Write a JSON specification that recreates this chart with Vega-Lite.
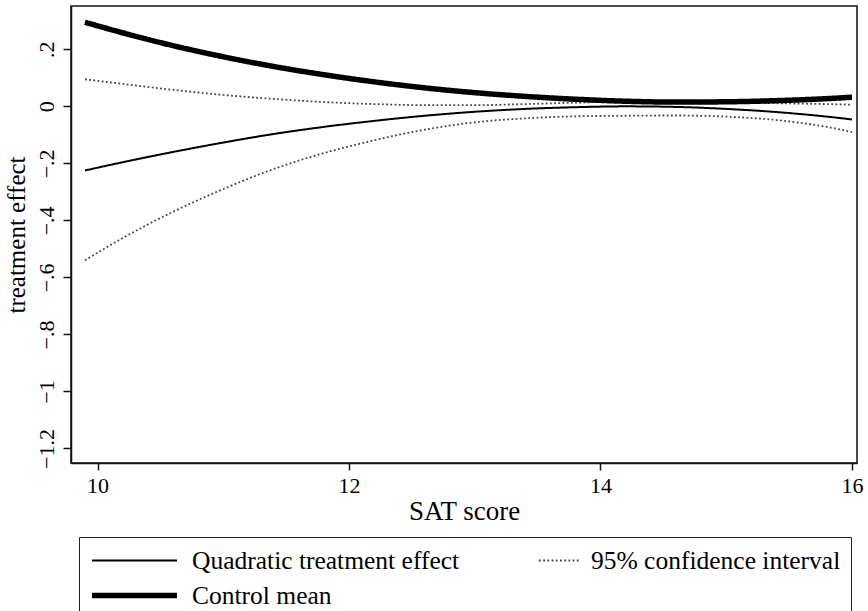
{
  "$schema": "https://vega.github.io/schema/vega-lite/v6.json",
  "autosize": "none",
  "width": 786,
  "height": 457,
  "padding": {"left": 71, "top": 6, "right": 11, "bottom": 148},
  "background": "white",
  "config": {
    "view": {"stroke": "#111", "strokeWidth": 1.5},
    "font": "Liberation Serif",
    "axis": {
      "grid": false,
      "domainColor": "#111",
      "domainWidth": 1.5,
      "tickColor": "#111",
      "tickWidth": 1.5,
      "labelFont": "Liberation Serif",
      "titleFont": "Liberation Serif",
      "labelColor": "black",
      "titleColor": "black",
      "titleFontWeight": "normal"
    },
    "legend": {
      "labelFont": "Liberation Serif",
      "labelColor": "black"
    }
  },
  "data": {
    "values": [
      {"sat": 9.9, "value": -0.225, "series": "Quadratic treatment effect", "line": "te"},
      {"sat": 10.2, "value": -0.196, "series": "Quadratic treatment effect", "line": "te"},
      {"sat": 10.6, "value": -0.160, "series": "Quadratic treatment effect", "line": "te"},
      {"sat": 11.0, "value": -0.127, "series": "Quadratic treatment effect", "line": "te"},
      {"sat": 11.4, "value": -0.097, "series": "Quadratic treatment effect", "line": "te"},
      {"sat": 11.8, "value": -0.072, "series": "Quadratic treatment effect", "line": "te"},
      {"sat": 12.2, "value": -0.051, "series": "Quadratic treatment effect", "line": "te"},
      {"sat": 12.6, "value": -0.033, "series": "Quadratic treatment effect", "line": "te"},
      {"sat": 13.0, "value": -0.019, "series": "Quadratic treatment effect", "line": "te"},
      {"sat": 13.4, "value": -0.009, "series": "Quadratic treatment effect", "line": "te"},
      {"sat": 13.8, "value": -0.003, "series": "Quadratic treatment effect", "line": "te"},
      {"sat": 14.2, "value": 0.0, "series": "Quadratic treatment effect", "line": "te"},
      {"sat": 14.6, "value": -0.002, "series": "Quadratic treatment effect", "line": "te"},
      {"sat": 15.0, "value": -0.009, "series": "Quadratic treatment effect", "line": "te"},
      {"sat": 15.4, "value": -0.020, "series": "Quadratic treatment effect", "line": "te"},
      {"sat": 15.8, "value": -0.036, "series": "Quadratic treatment effect", "line": "te"},
      {"sat": 16.0, "value": -0.046, "series": "Quadratic treatment effect", "line": "te"},

      {"sat": 9.9, "value": 0.095, "series": "95% confidence interval", "line": "ucl"},
      {"sat": 10.2, "value": 0.079, "series": "95% confidence interval", "line": "ucl"},
      {"sat": 10.6, "value": 0.058, "series": "95% confidence interval", "line": "ucl"},
      {"sat": 11.0, "value": 0.040, "series": "95% confidence interval", "line": "ucl"},
      {"sat": 11.4, "value": 0.026, "series": "95% confidence interval", "line": "ucl"},
      {"sat": 11.8, "value": 0.015, "series": "95% confidence interval", "line": "ucl"},
      {"sat": 12.2, "value": 0.008, "series": "95% confidence interval", "line": "ucl"},
      {"sat": 12.6, "value": 0.004, "series": "95% confidence interval", "line": "ucl"},
      {"sat": 13.0, "value": 0.004, "series": "95% confidence interval", "line": "ucl"},
      {"sat": 13.4, "value": 0.008, "series": "95% confidence interval", "line": "ucl"},
      {"sat": 13.8, "value": 0.013, "series": "95% confidence interval", "line": "ucl"},
      {"sat": 14.2, "value": 0.017, "series": "95% confidence interval", "line": "ucl"},
      {"sat": 14.6, "value": 0.018, "series": "95% confidence interval", "line": "ucl"},
      {"sat": 15.0, "value": 0.015, "series": "95% confidence interval", "line": "ucl"},
      {"sat": 15.4, "value": 0.011, "series": "95% confidence interval", "line": "ucl"},
      {"sat": 15.8, "value": 0.008, "series": "95% confidence interval", "line": "ucl"},
      {"sat": 16.0, "value": 0.006, "series": "95% confidence interval", "line": "ucl"},

      {"sat": 9.9, "value": -0.540, "series": "95% confidence interval", "line": "lcl"},
      {"sat": 10.2, "value": -0.462, "series": "95% confidence interval", "line": "lcl"},
      {"sat": 10.6, "value": -0.370, "series": "95% confidence interval", "line": "lcl"},
      {"sat": 11.0, "value": -0.290, "series": "95% confidence interval", "line": "lcl"},
      {"sat": 11.4, "value": -0.220, "series": "95% confidence interval", "line": "lcl"},
      {"sat": 11.8, "value": -0.164, "series": "95% confidence interval", "line": "lcl"},
      {"sat": 12.2, "value": -0.119, "series": "95% confidence interval", "line": "lcl"},
      {"sat": 12.6, "value": -0.082, "series": "95% confidence interval", "line": "lcl"},
      {"sat": 13.0, "value": -0.056, "series": "95% confidence interval", "line": "lcl"},
      {"sat": 13.4, "value": -0.042, "series": "95% confidence interval", "line": "lcl"},
      {"sat": 13.8, "value": -0.035, "series": "95% confidence interval", "line": "lcl"},
      {"sat": 14.2, "value": -0.033, "series": "95% confidence interval", "line": "lcl"},
      {"sat": 14.6, "value": -0.032, "series": "95% confidence interval", "line": "lcl"},
      {"sat": 15.0, "value": -0.036, "series": "95% confidence interval", "line": "lcl"},
      {"sat": 15.4, "value": -0.048, "series": "95% confidence interval", "line": "lcl"},
      {"sat": 15.8, "value": -0.072, "series": "95% confidence interval", "line": "lcl"},
      {"sat": 16.0, "value": -0.090, "series": "95% confidence interval", "line": "lcl"},

      {"sat": 9.9, "value": 0.295, "series": "Control mean", "line": "cm"},
      {"sat": 10.2, "value": 0.258, "series": "Control mean", "line": "cm"},
      {"sat": 10.6, "value": 0.213, "series": "Control mean", "line": "cm"},
      {"sat": 11.0, "value": 0.174, "series": "Control mean", "line": "cm"},
      {"sat": 11.4, "value": 0.140, "series": "Control mean", "line": "cm"},
      {"sat": 11.8, "value": 0.111, "series": "Control mean", "line": "cm"},
      {"sat": 12.2, "value": 0.086, "series": "Control mean", "line": "cm"},
      {"sat": 12.6, "value": 0.065, "series": "Control mean", "line": "cm"},
      {"sat": 13.0, "value": 0.048, "series": "Control mean", "line": "cm"},
      {"sat": 13.4, "value": 0.035, "series": "Control mean", "line": "cm"},
      {"sat": 13.8, "value": 0.025, "series": "Control mean", "line": "cm"},
      {"sat": 14.2, "value": 0.018, "series": "Control mean", "line": "cm"},
      {"sat": 14.6, "value": 0.015, "series": "Control mean", "line": "cm"},
      {"sat": 15.0, "value": 0.016, "series": "Control mean", "line": "cm"},
      {"sat": 15.4, "value": 0.020, "series": "Control mean", "line": "cm"},
      {"sat": 15.8, "value": 0.027, "series": "Control mean", "line": "cm"},
      {"sat": 16.0, "value": 0.032, "series": "Control mean", "line": "cm"}
    ]
  },
  "mark": {"type": "line", "interpolate": "monotone", "clip": true},
  "encoding": {
    "x": {
      "field": "sat",
      "type": "quantitative",
      "scale": {"domain": [9.789, 16.04], "nice": false, "zero": false},
      "axis": {
        "values": [10, 12, 14, 16],
        "tickSize": 7,
        "labelPadding": 5,
        "labelFontSize": 22,
        "title": "SAT score",
        "titleFontSize": 27,
        "titlePadding": 2
      }
    },
    "y": {
      "field": "value",
      "type": "quantitative",
      "scale": {"domain": [-1.251, 0.352], "nice": false, "zero": false},
      "axis": {
        "values": [-1.2, -1, -0.8, -0.6, -0.4, -0.2, 0, 0.2],
        "labelExpr": "replace(replace(format(datum.value, '.1~f'), '0.', '.'), '-', '−')",
        "labelAngle": -90,
        "tickSize": 8,
        "labelPadding": 5,
        "labelFontSize": 22,
        "title": "treatment effect",
        "titleFontSize": 25,
        "titlePadding": 6
      }
    },
    "detail": {"field": "line"},
    "color": {
      "field": "series",
      "type": "nominal",
      "scale": {
        "domain": ["Quadratic treatment effect", "95% confidence interval", "Control mean"],
        "range": ["#000000", "#444444", "#000000"]
      },
      "legend": {
        "title": null,
        "orient": "none",
        "legendX": 8,
        "legendY": 531,
        "direction": "horizontal",
        "columns": 2,
        "strokeColor": "#222",
        "padding": 10,
        "rowPadding": 6,
        "columnPadding": 28,
        "labelOffset": 72,
        "labelFontSize": 25.5,
        "labelLimit": 500,
        "symbolType": "M-1,0H5.8",
        "symbolSize": 625,
        "encode": {
          "symbols": {
            "update": {
              "shape": {"signal": "datum.value === '95% confidence interval' ? 'M2.84,0H6.12' : 'M-1,0H5.8'"}
            }
          }
        }
      }
    },
    "strokeWidth": {
      "field": "series",
      "type": "nominal",
      "scale": {
        "type": "ordinal",
        "domain": ["Quadratic treatment effect", "95% confidence interval", "Control mean"],
        "range": [2, 1.8, 5.5]
      },
      "legend": {"title": null}
    },
    "strokeDash": {
      "field": "series",
      "type": "nominal",
      "scale": {
        "domain": ["Quadratic treatment effect", "95% confidence interval", "Control mean"],
        "range": [[1, 0], [1.8, 2.4], [1, 0]]
      },
      "legend": {"title": null}
    }
  }
}
